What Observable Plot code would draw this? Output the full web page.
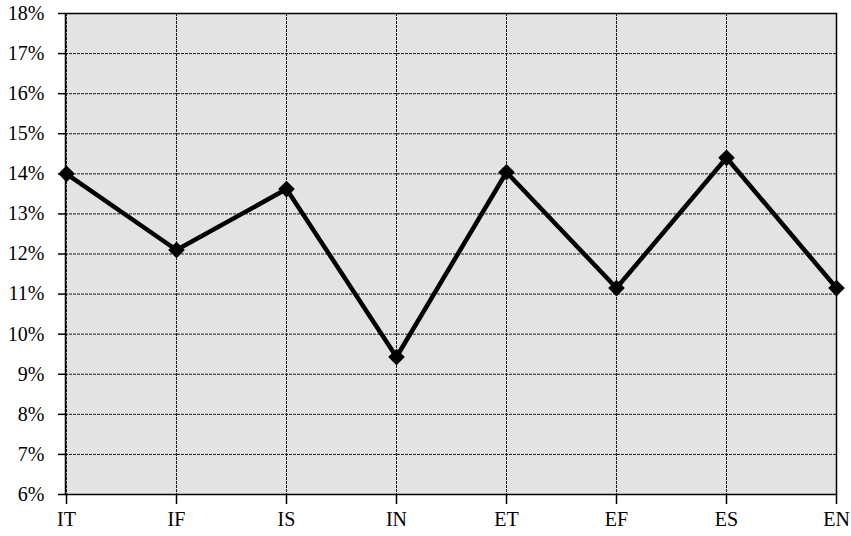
<!DOCTYPE html>
<html>
<head>
<meta charset="utf-8">
<script src="https://cdn.jsdelivr.net/npm/d3@7"></script>
<script src="https://cdn.jsdelivr.net/npm/@observablehq/plot@0.6"></script>
<style>
  body { margin: 0; background: #fff; }
</style>
</head>
<body>
<div id="chart"></div>
<script>
const categories = ["IT", "IF", "IS", "IN", "ET", "EF", "ES", "EN"];
const values = [14.0, 12.1, 13.62, 9.43, 14.04, 11.15, 14.4, 11.15];
const yTicks = [6, 7, 8, 9, 10, 11, 12, 13, 14, 15, 16, 17, 18];

const data = categories.map((c, i) => ({cat: c, v: values[i]}));

const chart = Plot.plot({
  width: 851,
  height: 536,
  marginLeft: 65,
  marginRight: 15,
  marginTop: 13,
  marginBottom: 42,
  style: {fontFamily: "'Liberation Serif', 'Times New Roman', serif", fontSize: "20px", color: "#000", background: "#fff"},
  x: {type: "point", domain: categories, padding: 0},
  y: {domain: [6, 18]},
  marks: [
    Plot.frame({fill: "#e3e3e3"}),
    Plot.ruleY(yTicks, {stroke: "#1a1a1a", strokeWidth: 1, strokeDasharray: "3,1"}),
    Plot.ruleX(categories, {stroke: "#1a1a1a", strokeWidth: 1, strokeDasharray: "3,1"}),
    Plot.frame({stroke: "#000", strokeWidth: 1.5}),
    Plot.axisY({ticks: yTicks, tickFormat: d => d + "%", tickSize: 7, tickPadding: 14, label: null, fontSize: 20, stroke: "#000", strokeWidth: 1.5}),
    Plot.axisX({tickSize: 10, tickPadding: 7, label: null, fontSize: 20, stroke: "#000", strokeWidth: 1.5}),
    Plot.line(data, {x: "cat", y: "v", stroke: "#000", strokeWidth: 4.5}),
    Plot.dot(data, {x: "cat", y: "v", symbol: "diamond2", r: 7.5, fill: "#000", stroke: "none"})
  ]
});
document.getElementById("chart").appendChild(chart);
</script>
</body>
</html>
